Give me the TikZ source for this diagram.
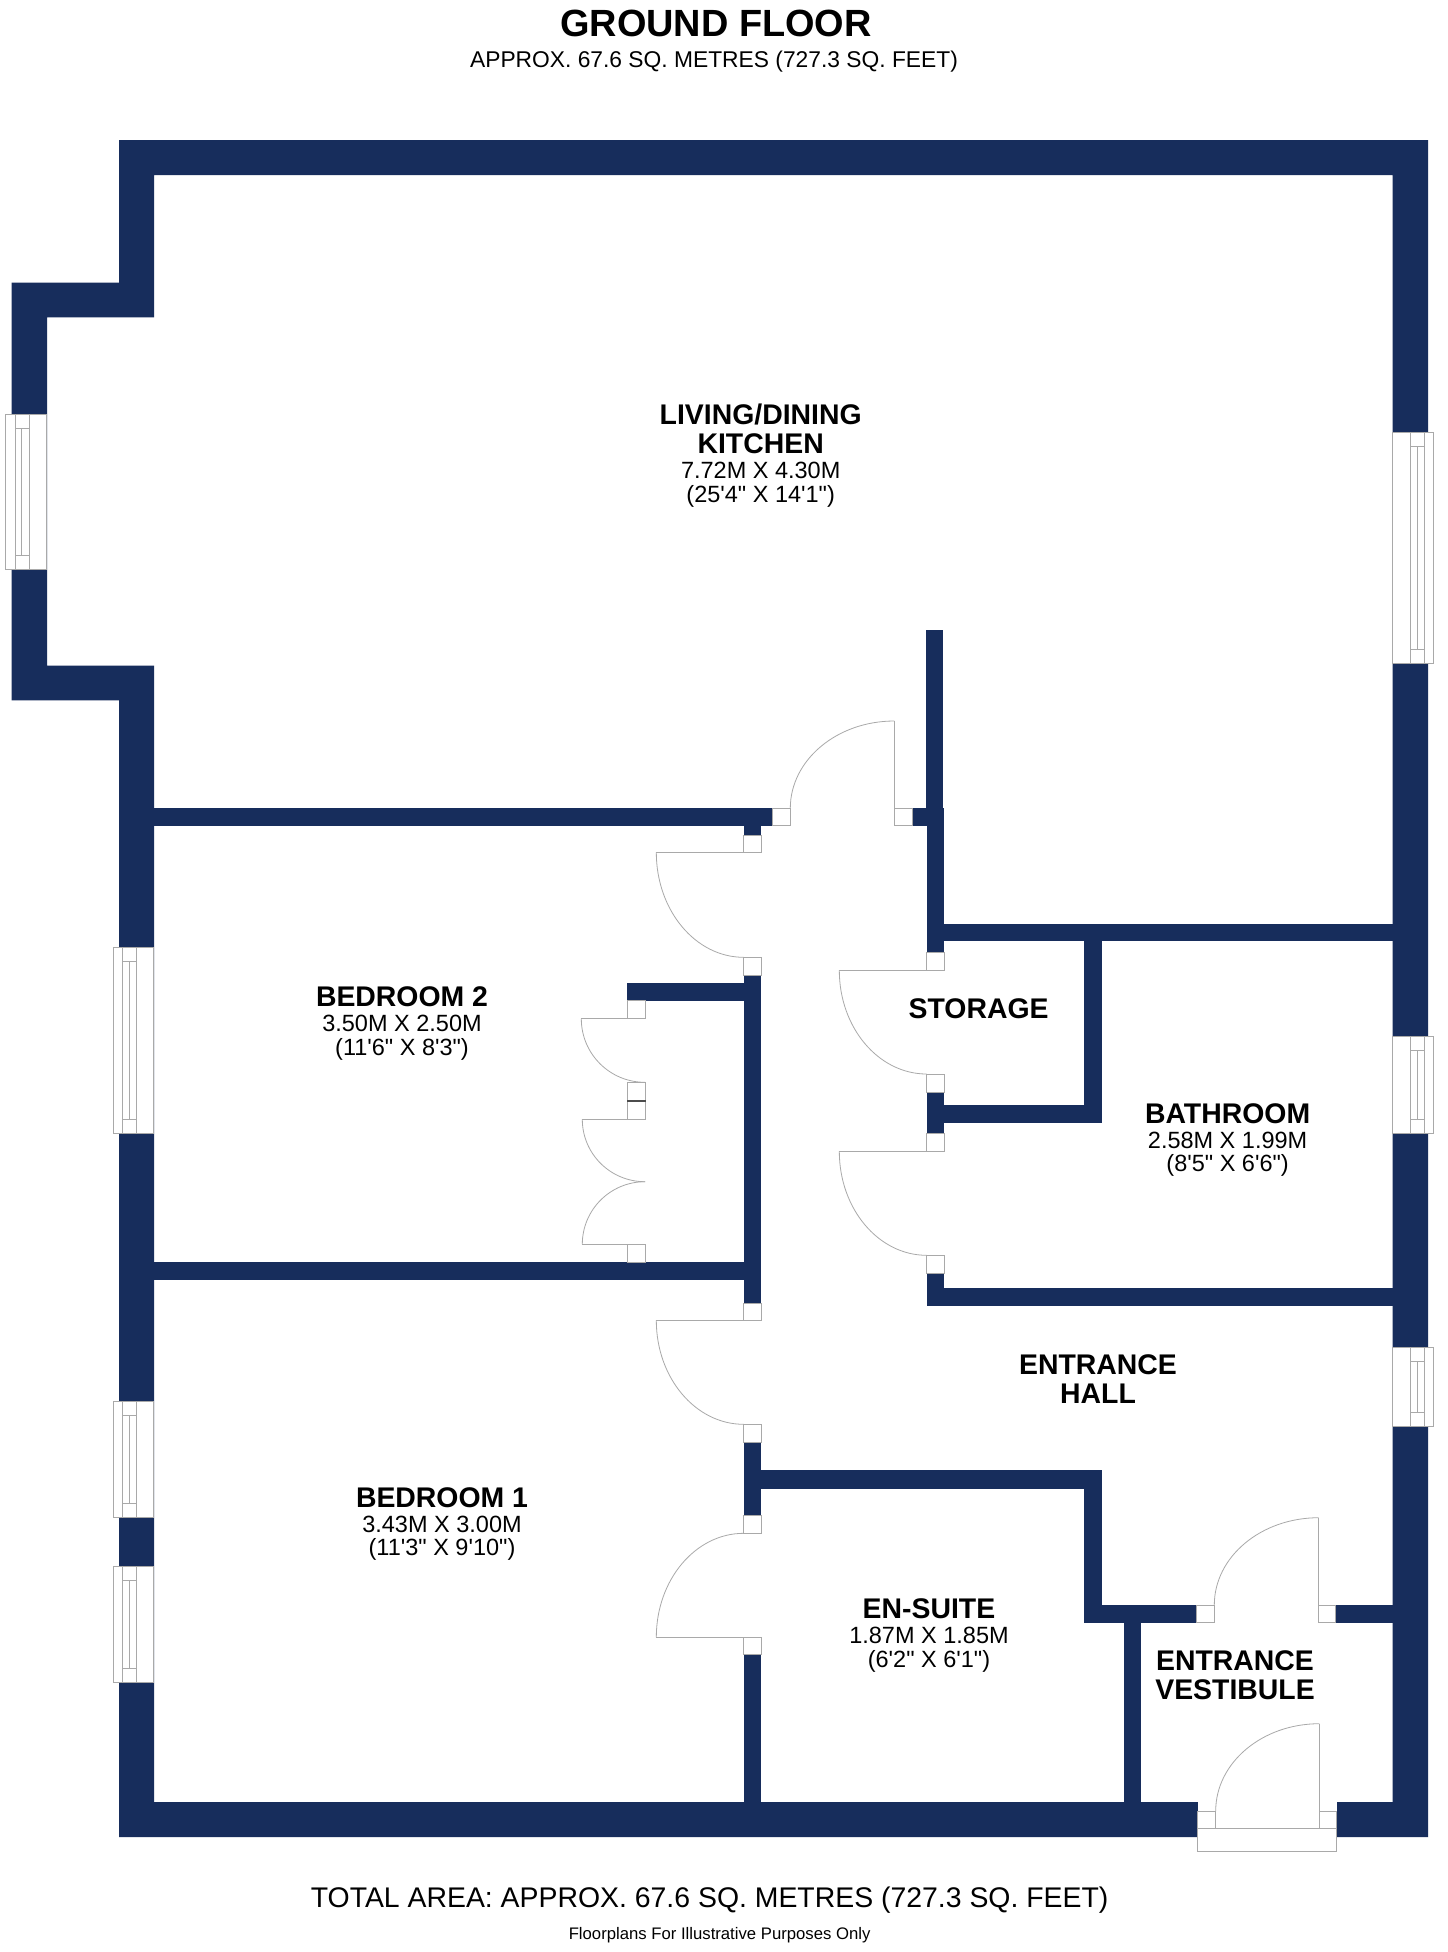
\documentclass[tikz,border=0pt]{standalone}
\usepackage{fontspec}
\usetikzlibrary{calc}
\newfontfamily\planfont{Liberation Sans}
\definecolor{wallblue}{HTML}{172D5C}
\definecolor{fitline}{HTML}{A9A9A9}
\newcommand{\namef}{\fontsize{28.4}{29}\selectfont\bfseries}
\newcommand{\dimf}{\fontsize{23.5}{24}\selectfont\mdseries}
\tikzset{
  wall/.style={fill=wallblue,draw=none},
  fit/.style={draw=fitline,line width=0.9pt,fill=white},
  thin fit/.style={draw=fitline,line width=0.8pt},
  room/.style={align=center,inner sep=0pt,font=\planfont\namef},
}
% wall rectangle, opening box
\newcommand{\W}[4]{\fill[wall] (#1,#2) rectangle (#3,#4);}
\newcommand{\B}[4]{\draw[fit] (#1,#2) rectangle (#3,#4);}
% door with vertical leaf: E=leaf end, J=arc end on wall line
\newcommand{\arcV}[4]{\draw[thin fit] (#1,#2) .. controls ($(#1,#2)!.5523!(#3,#2)$) and ($(#3,#4)!.5523!(#3,#2)$) .. (#3,#4);}
\newcommand{\arcH}[4]{\draw[thin fit] (#1,#2) .. controls ($(#1,#2)!.5523!(#1,#4)$) and ($(#3,#4)!.5523!(#1,#4)$) .. (#3,#4);}
\newcommand{\leaf}[4]{\draw[thin fit] (#1,#2) -- (#3,#4);}
% window: x outer, x1, xm, x2, x inner side, y1, y2
\newcommand{\win}[7]{%
  \fill[white] (#2,#6) rectangle (#5,#7);
  \draw[fit] (#1,#6) rectangle (#5,#7);
  \draw[thin fit] (#2,#6) -- (#2,#7) (#4,#6) -- (#4,#7);
  \draw[thin fit] (#2,#6+14) -- (#4,#6+14) (#2,#7-14) -- (#4,#7-14) (#3,#6+14) -- (#3,#7-14);}
\begin{document}
\begin{tikzpicture}[x=1pt,y=-1pt]
\useasboundingbox (0,0) rectangle (1448,1952);
\fill[white] (0,0) rectangle (1448,1952);
% outer walls
\fill[wallblue,even odd rule]
  (119,140) -- (1428,140) -- (1428,1837) -- (119,1837) -- (119,700.3) -- (11.7,700.3) -- (11.7,282.7) -- (119,282.7) -- cycle
  (154,175) -- (1392.7,175) -- (1392.7,1802) -- (154,1802) -- (154,665.7) -- (47,665.7) -- (47,317.3) -- (154,317.3) -- cycle;
% internal walls
\W{926}{630.3}{943.3}{808.3}
\W{912}{808.3}{944.3}{825.7}
\W{926.7}{825.7}{944.3}{952.7}
\W{944.3}{924}{1393}{941.3}
\W{154}{808.3}{772.7}{825.7}
\W{743.7}{825.7}{761.3}{835.7}
\W{743.7}{975}{761.3}{1303}
\W{627}{982.7}{743.7}{1000.7}
\W{154}{1262}{743.7}{1280}
\W{743.7}{1442.7}{761.3}{1515.3}
\W{761.3}{1470.3}{1102.3}{1488.5}
\W{1084}{1488}{1102.3}{1622.7}
\W{1084}{1605}{1196}{1622.7}
\W{1123.7}{1622.7}{1141}{1802}
\W{1335.7}{1605}{1393}{1622.7}
\W{743.7}{1654.3}{761.3}{1802}
\W{926.7}{1092}{944.3}{1133.7}
\W{944.3}{1105.3}{1102}{1123}
\W{1084}{941}{1102}{1123}
\W{926.7}{1273.3}{944.3}{1306.3}
\W{944.3}{1288}{1393}{1306.3}
% door openings
\B{772.7}{808.3}{790.3}{825.7}
\B{894.3}{808.3}{912}{825.7}
\leaf{894.3}{721}{894.3}{808.3}
\arcV{894.3}{721}{790.3}{808.3}
\B{743.7}{835.7}{761.3}{852.3}
\B{743.7}{957.3}{761.3}{975}
\leaf{656.3}{852.3}{743.7}{852.3}
\arcH{656.3}{852.3}{743.7}{957.3}
% wardrobe doors
\B{627}{1000.7}{645.7}{1018.7}
\leaf{581.3}{1018.7}{627}{1018.7}
\arcH{581.3}{1018.7}{645}{1082.3}
\B{627}{1082.3}{645.7}{1119.3}
\draw[draw=black!70,line width=1.4pt] (627,1101) -- (645.7,1101);
\leaf{582.3}{1119.3}{627}{1119.3}
\arcH{582.3}{1119.3}{645}{1181.7}
\arcH{582.3}{1244.3}{645}{1181.7}
\leaf{582.3}{1244.3}{627}{1244.3}
\B{627}{1244.3}{645.7}{1262}
% bedroom 1 and en-suite doors
\B{743.7}{1303}{761.3}{1320.3}
\leaf{656.3}{1320.3}{743.7}{1320.3}
\arcH{656.3}{1320.3}{743.7}{1424.3}
\B{743.7}{1424.3}{761.3}{1442.7}
\B{743.7}{1515.3}{761.3}{1533.3}
\arcH{656.3}{1637.3}{743.7}{1533.3}
\leaf{656.3}{1637.3}{743.7}{1637.3}
\B{743.7}{1637.3}{761.3}{1654.3}
% storage and bathroom doors
\B{926.7}{952.7}{944.3}{970.3}
\leaf{839.3}{970.3}{926.7}{970.3}
\arcH{839.3}{970.3}{926.7}{1074}
\B{926.7}{1074}{944.3}{1092}
\B{926.7}{1133.7}{944.3}{1151.3}
\leaf{839.3}{1151.3}{926.7}{1151.3}
\arcH{839.3}{1151.3}{926.7}{1255.3}
\B{926.7}{1255.3}{944.3}{1273.3}
% vestibule inner door
\B{1196}{1605}{1214.3}{1622.7}
\B{1318.7}{1605}{1335.7}{1622.7}
\leaf{1318.7}{1517.7}{1318.7}{1605}
\arcV{1318.7}{1517.7}{1214.3}{1605}
% front door
\fill[white] (1197.7,1802) rectangle (1336.7,1838);
\draw[fit] (1197.7,1828.3) rectangle (1336.7,1851.3);
\B{1197.7}{1811}{1215.7}{1828.3}
\B{1319.3}{1811}{1336.7}{1828.3}
\leaf{1319.3}{1723.7}{1319.3}{1811}
\arcV{1319.3}{1723.7}{1215.7}{1811}
% windows
\win{5.3}{15.7}{21.7}{29.7}{46.3}{414}{569.3}
\win{113.3}{122.3}{129.3}{136.3}{153.7}{947}{1133.3}
\win{113.3}{122.3}{129.3}{136.3}{153.7}{1401}{1517.5}
\win{113.3}{122.3}{129.3}{136.3}{153.7}{1566}{1682}
\win{1433.3}{1424.3}{1417.3}{1410.3}{1392.7}{432.3}{663.8}
\win{1433.3}{1424.3}{1417.3}{1410.3}{1392.7}{1036.3}{1133}
\win{1433.3}{1424.3}{1417.3}{1410.3}{1392.7}{1347.7}{1426.3}
% texts
\node[inner sep=0pt,font=\planfont\bfseries\fontsize{37.9}{40}\selectfont] (title) at (716,23.7) {GROUND FLOOR};
\node[inner sep=0pt,font=\planfont\fontsize{22.8}{26}\selectfont] (subtitle) at (714,62) {APPROX. 67.6 SQ. METRES (727.3 SQ. FEET)};
\node[room] (living) at (760.7,455.5) {LIVING/DINING\\KITCHEN\\[-4pt]\dimf 7.72M X 4.30M\\[-5.3pt]\dimf (25'4" X 14'1")};
\node[room] (bed2) at (402,1023.5) {BEDROOM 2\\[-4pt]\dimf 3.50M X 2.50M\\[-5.3pt]\dimf (11'6" X 8'3")};
\node[room] (storage) at (978.6,1008.5) {STORAGE};
\node[room] (bath) at (1227.6,1140) {BATHROOM\\[-4pt]\dimf 2.58M X 1.99M\\[-5.3pt]\dimf (8'5" X 6'6")};
\node[room] (hall) at (1098,1379) {ENTRANCE\\HALL};
\node[room] (bed1) at (442,1524) {BEDROOM 1\\[-4pt]\dimf 3.43M X 3.00M\\[-5.3pt]\dimf (11'3" X 9'10")};
\node[room] (ensuite) at (929,1635.5) {EN-SUITE\\[-4pt]\dimf 1.87M X 1.85M\\[-5.3pt]\dimf (6'2" X 6'1")};
\node[room] (vest) at (1235,1675) {ENTRANCE\\VESTIBULE};
\node[inner sep=0pt,font=\planfont\fontsize{28.4}{32}\selectfont] (total) at (709.6,1900) {TOTAL AREA: APPROX. 67.6 SQ. METRES (727.3 SQ. FEET)};
\node[inner sep=0pt,font=\planfont\fontsize{16.7}{19}\selectfont] (foot) at (719.6,1935.5) {Floorplans For Illustrative Purposes Only};
\end{tikzpicture}
\end{document}
